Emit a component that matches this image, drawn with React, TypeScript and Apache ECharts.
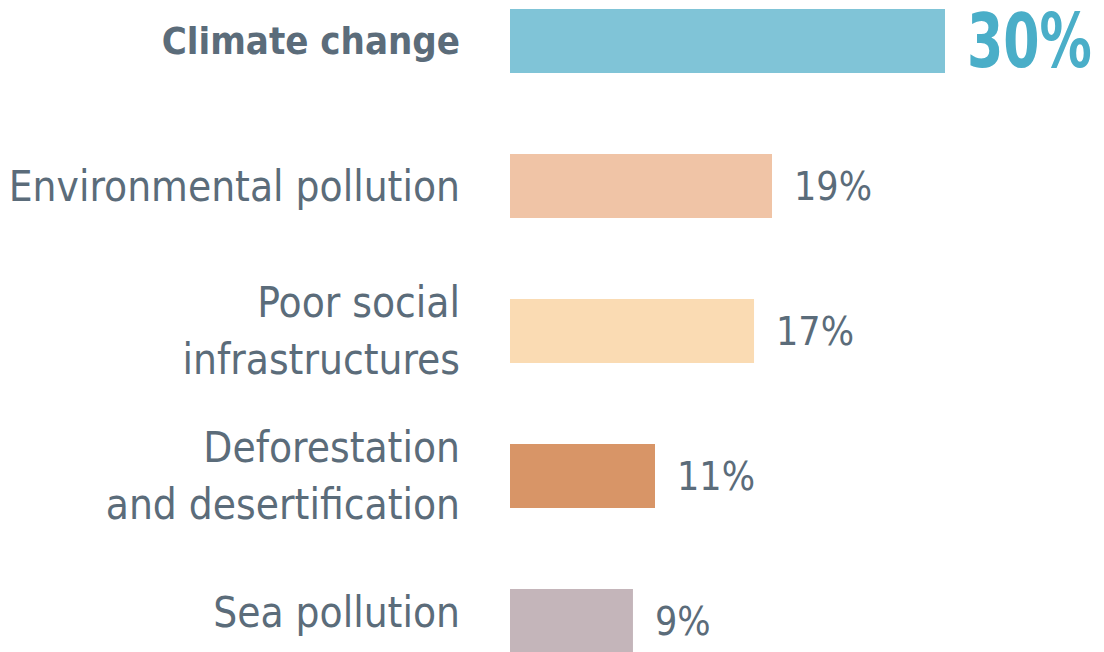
import React, { useEffect, useRef } from "react";
import * as echarts from "echarts";

const categories = [
  "Climate change",
  "Environmental pollution",
  "Poor social\ninfrastructures",
  "Deforestation\nand desertification",
  "Sea pollution",
];
const values = [30, 18.07, 16.83, 10.0, 8.48];
const valueLabels = ["30%", "19%", "17%", "11%", "9%"];
const colors = ["#80c4d7", "#f0c4a6", "#fadbb3", "#d89567", "#c4b5ba"];

const FONT = "'DejaVu Sans Condensed', 'DejaVu Sans', sans-serif";
const TEXT = "#5b6c7a";
const OFFSET = 40;

export default function App() {
  const ref = useRef<HTMLDivElement>(null);
  useEffect(() => {
    if (!ref.current) return;
    const chart = echarts.init(ref.current, null, { renderer: "svg" });
    chart.setOption({
      animation: false,
      grid: { left: 510, width: 435, top: OFFSET - 31.5, height: 725 },
      xAxis: {
        type: "value",
        min: 0,
        max: 30,
        show: false,
      },
      yAxis: {
        type: "category",
        data: categories,
        inverse: true,
        axisLine: { show: false },
        axisTick: { show: false },
        axisLabel: {
          margin: 50,
          align: "right",
          formatter: (v: string, i: number) => {
            const key = i === 0 ? "b" : i === categories.length - 1 ? "s" : "n";
            return v
              .split("\n")
              .map((l) => `{${key}|${l}}`)
              .join("\n");
          },
          rich: {
            b: { fontFamily: FONT, fontSize: 38, fontWeight: "bold", color: TEXT, lineHeight: 58 },
            n: { fontFamily: FONT, fontSize: 42, color: TEXT, lineHeight: 57 },
            s: { fontFamily: FONT, fontSize: 42, color: TEXT, lineHeight: 57, padding: [0, 0, 18, 0] },
          },
        },
      },
      series: [
        {
          type: "bar",
          barWidth: 64,
          data: values.map((v, i) => ({
            value: v,
            itemStyle: { color: colors[i] },
            label: { show: i !== 0 },
          })),
          label: {
            show: true,
            position: "right",
            distance: 22,
            formatter: (p: any) => valueLabels[p.dataIndex],
            fontFamily: FONT,
            fontSize: 39,
            color: TEXT,
          },
        },
      ],
    });
    const [px, py] = chart.convertToPixel({ gridIndex: 0 }, [values[0], 0]) as number[];
    chart.setOption({
      graphic: [
        {
          type: "text",
          x: px + 22,
          y: py,
          scaleX: 1,
          scaleY: 1.3,
          style: {
            text: valueLabels[0],
            fontFamily: FONT,
            fontSize: 58,
            fontWeight: "bold",
            fill: "#4aaec8",
            verticalAlign: "middle",
            align: "left",
          },
        },
      ],
    });
    return () => chart.dispose();
  }, []);
  return (
    <div
      style={{
        position: "fixed",
        left: 0,
        top: 0,
        width: 1104,
        height: 652,
        overflow: "hidden",
        background: "#fff",
      }}
    >
      <div
        ref={ref}
        style={{ position: "absolute", left: 0, top: -OFFSET, width: 1104, height: 760 }}
      />
    </div>
  );
}
